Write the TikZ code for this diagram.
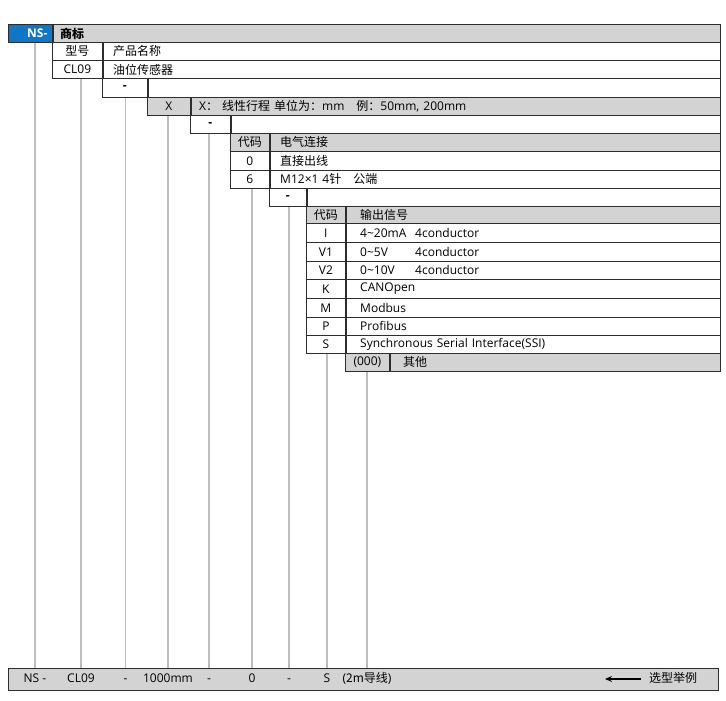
\documentclass[tikz,border=0pt]{standalone}
\usepackage{fontspec}
\setmainfont{Open Sans}
\newfontfamily\cjk{Noto Sans CJK SC}
\usepackage{xcolor}
\definecolor{nsblue}{RGB}{18,118,198}
\definecolor{headgray}{RGB}{211,211,211}
\definecolor{cellline}{RGB}{45,45,45}
\definecolor{guidegray}{RGB}{190,190,190}
\usepackage{tikz}
\usetikzlibrary{arrows.meta, positioning}
\tikzstyle{codecell}=[rectangle, draw=cellline, line width=0.8pt, inner sep=0pt, anchor=north west, text centered]
\tikzstyle{textcell}=[rectangle, draw=cellline, line width=0.8pt, inner ysep=0pt, align=left]
\tikzstyle{head}=[fill=headgray]
\tikzstyle{barlabel}=[text height=9pt, text depth=3pt, inner sep=0pt]
\tikzstyle{guide}=[draw=guidegray, line width=1.4pt]
\tikzstyle{pointer}=[line width=1.5pt, -{Stealth[length=7pt,width=6pt]}]
% fixed column for the signal range
\newcommand{\sig}[2]{\makebox[55pt][l]{#1}#2}
\newcommand{\dash}{\textbf{-}}

\begin{document}
\begin{tikzpicture}[x=1pt, y=-1pt, node distance=0pt, every node/.style={font=\fontsize{12}{14}\selectfont}]
	\useasboundingbox (0,0) rectangle (726,701);
	
	% brand row
	\node(ns)[codecell, fill=nsblue, minimum width=44pt, minimum height=18pt, text width=34pt, inner xsep=5pt, align=right, text=white, font=\fontsize{12}{14}\selectfont\bfseries] at (8,24) {NS-};
	\node(ns-t)[textcell, head, right=of ns, minimum height=18pt, text width=653pt, inner xsep=7pt]{{\cjk\bfseries 商标}};
	
	% model
	\node(mod)[codecell, minimum width=50pt, minimum height=18pt] at (52,42) {{\cjk 型号}};
	\node(mod-t)[textcell, right=of mod, minimum height=18pt, text width=597pt, inner xsep=10pt]{{\cjk 产品名称}};
	
	\node(cl)[codecell, minimum width=50pt, minimum height=18pt] at (52,60) {CL09};
	\node(cl-t)[textcell, right=of cl, minimum height=18pt, text width=597pt, inner xsep=10pt]{{\cjk 油位传感器}};
	
	\node(d1)[codecell, minimum width=45pt, minimum height=19pt] at (102,78) {\dash};
	\node(d1-t)[textcell, right=of d1, minimum height=19pt, minimum width=572pt]{};
	
	% stroke
	\node(x)[codecell, head, minimum width=43pt, minimum height=18pt] at (147,97) {X};
	\node(x-t)[textcell, head, right=of x, minimum height=18pt, text width=513pt, inner xsep=8pt]{X{\cjk ：}\ {\cjk 线性行程}\ {\cjk 单位为：}mm\quad{\cjk 例：}50mm, 200mm};
	
	\node(d2)[codecell, minimum width=40pt, minimum height=18pt] at (190,115) {\dash};
	\node(d2-t)[textcell, right=of d2, minimum height=18pt, minimum width=489pt]{};
	
	% connection
	\node(cn)[codecell, head, minimum width=39pt, minimum height=18pt] at (230,133) {{\cjk 代码}};
	\node(cn-t)[textcell, head, right=of cn, minimum height=18pt, text width=430pt, inner xsep=10pt]{{\cjk 电气连接}};
	
	\node(cn0)[codecell, minimum width=39pt, minimum height=19pt] at (230,151) {0};
	\node(cn0-t)[textcell, right=of cn0, minimum height=19pt, text width=430pt, inner xsep=10pt]{{\cjk 直接出线}};
	
	\node(cn6)[codecell, minimum width=39pt, minimum height=18pt] at (230,170) {6};
	\node(cn6-t)[textcell, right=of cn6, minimum height=18pt, text width=430pt, inner xsep=10pt]{M12×1\ 4{\cjk 针}\quad{\cjk 公端}};
	
	\node(d3)[codecell, minimum width=37pt, minimum height=18pt] at (269,188) {\dash};
	\node(d3-t)[textcell, right=of d3, minimum height=18pt, minimum width=413pt]{};
	
	% output signal
	\node(out)[codecell, head, minimum width=39pt, minimum height=17pt] at (306,206) {{\cjk 代码}};
	\node(out-t)[textcell, head, right=of out, minimum height=17pt, text width=346pt, inner xsep=14pt]{{\cjk 输出信号}};
	
	\node(out-i)[codecell, minimum width=39pt, minimum height=19pt] at (306,223) {I};
	\node(out-i-t)[textcell, right=of out-i, minimum height=19pt, text width=346pt, inner xsep=14pt]{\sig{4\textasciitilde20mA}{4conductor}};
	
	\node(out-v1)[codecell, minimum width=39pt, minimum height=19pt] at (306,242) {V1};
	\node(out-v1-t)[textcell, right=of out-v1, minimum height=19pt, text width=346pt, inner xsep=14pt]{\sig{0\textasciitilde5V}{4conductor}};
	
	\node(out-v2)[codecell, minimum width=39pt, minimum height=18pt] at (306,261) {V2};
	\node(out-v2-t)[textcell, right=of out-v2, minimum height=18pt, text width=346pt, inner xsep=14pt]{\sig{0\textasciitilde10V}{4conductor}};
	
	\node(out-k)[codecell, minimum width=39pt, minimum height=19pt] at (306,279) {K};
	\node(out-k-t)[textcell, right=of out-k, minimum height=19pt, text width=346pt, inner xsep=14pt]{CANOpen};
	
	\node(out-m)[codecell, minimum width=39pt, minimum height=19pt] at (306,298) {M};
	\node(out-m-t)[textcell, right=of out-m, minimum height=19pt, text width=346pt, inner xsep=14pt]{Modbus};
	
	\node(out-p)[codecell, minimum width=39pt, minimum height=18pt] at (306,317) {P};
	\node(out-p-t)[textcell, right=of out-p, minimum height=18pt, text width=346pt, inner xsep=14pt]{Profibus};
	
	\node(out-s)[codecell, minimum width=39pt, minimum height=18pt] at (306,335) {S};
	\node(out-s-t)[textcell, right=of out-s, minimum height=18pt, text width=346pt, inner xsep=14pt]{Synchronous Serial Interface(SSI)};
	
	\node(oth)[codecell, head, minimum width=44pt, minimum height=18pt] at (345,353) {(000)};
	\node(oth-t)[textcell, head, right=of oth, minimum height=18pt, text width=304pt, inner xsep=13pt]{{\cjk 其他}};
	
	% example bar
	\node(bar)[codecell, head, minimum width=710pt, minimum height=22pt] at (8,668) {};
	\node(b-ns)[barlabel] at (35,679) {NS -};
	\node(b-cl)[barlabel] at (81,679) {CL09};
	\node(b-d1)[barlabel] at (125.5,679) {-};
	\node(b-x)[barlabel] at (168,679) {1000mm};
	\node(b-d2)[barlabel] at (209,679) {-};
	\node(b-cn)[barlabel] at (252,679) {0};
	\node(b-d3)[barlabel] at (289,679) {-};
	\node(b-out)[barlabel] at (327,679) {S};
	\node(b-oth)[barlabel] at (367,679) {({\cjk 2m导线})};
	\node(tag)[barlabel, anchor=west, inner xsep=8pt] at (641,679) {{\cjk 选型举例}};
	\coordinate(tip) at (605,679);
	
	\draw[guide](ns.south -| b-ns)--(bar.north -| b-ns);
	\draw[guide](cl.south -| b-cl)--(bar.north -| b-cl);
	\draw[guide](d1.south -| b-d1)--(bar.north -| b-d1);
	\draw[guide](x.south -| b-x)--(bar.north -| b-x);
	\draw[guide](d2.south -| b-d2)--(bar.north -| b-d2);
	\draw[guide](cn6.south -| b-cn)--(bar.north -| b-cn);
	\draw[guide](d3.south -| b-d3)--(bar.north -| b-d3);
	\draw[guide](out-s.south -| b-out)--(bar.north -| b-out);
	\draw[guide](oth.south -| b-oth)--(bar.north -| b-oth);
	\draw[pointer](tag.west)--(tip);
	
\end{tikzpicture}
\end{document}
